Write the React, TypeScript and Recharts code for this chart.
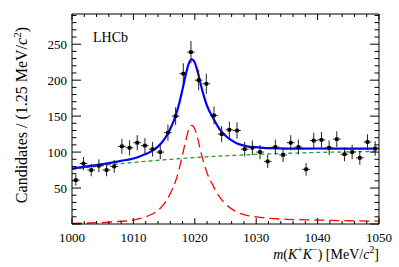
import { ComposedChart, XAxis, YAxis, Line, Scatter, ErrorBar } from "recharts";

const FONT = '"Liberation Serif", "Times New Roman", serif';

// measured bins, 1.25 MeV wide
const binCenters = [
  1000.625, 1001.875, 1003.125, 1004.375, 1005.625, 1006.875, 1008.125, 1009.375,
  1010.625, 1011.875, 1013.125, 1014.375, 1015.625, 1016.875, 1018.125, 1019.375,
  1020.625, 1021.875, 1023.125, 1024.375, 1025.625, 1026.875, 1028.125, 1029.375,
  1030.625, 1031.875, 1033.125, 1034.375, 1035.625, 1036.875, 1038.125, 1039.375,
  1040.625, 1041.875, 1043.125, 1044.375, 1045.625, 1046.875, 1048.125, 1049.375,
];
const candidates = [
  61, 84, 75, 81, 75, 80, 108, 106, 113, 109, 104, 100, 127, 150, 209, 239,
  200, 195, 151, 125, 131, 130, 104, 106, 100, 87, 107, 96, 113, 107, 76, 116,
  117, 106, 118, 97, 100, 92, 114, 105,
];
const candidateErrors = [
  7.8, 9.2, 8.7, 9.0, 8.7, 8.9, 10.4, 10.3, 10.6, 10.4, 10.2, 10.0, 11.3, 12.2, 14.5, 15.5,
  14.1, 14.0, 12.3, 11.2, 11.4, 11.4, 10.2, 10.3, 10.0, 9.3, 10.3, 9.8, 10.6, 10.3, 8.7, 10.8,
  10.8, 10.3, 10.9, 9.8, 10.0, 9.6, 10.7, 10.2,
];
const binHalfWidth = 0.625;

// fit curves
const curveMass = [
  1000, 1003, 1006, 1008, 1010, 1011, 1012, 1013, 1014, 1015, 1016, 1017, 1017.5, 1018,
  1018.5, 1019, 1019.5, 1020, 1020.5, 1021, 1021.5, 1022, 1023, 1024, 1025, 1026, 1027,
  1028, 1029, 1030, 1032, 1035, 1040, 1045, 1050,
];
const signalCurve = [
  1, 1.5, 2.5, 3.8, 5.5, 7.5, 10, 13.5, 19, 28, 42, 63, 78, 96,
  115, 131, 137, 132, 118, 100, 84, 71, 53, 38, 28, 21, 16,
  13, 11, 10, 8, 6.5, 5.5, 4.5, 4,
];
const backgroundCurve = [
  76, 79.2, 82.1, 83.9, 85.6, 86.4, 87.2, 87.9, 88.6, 89.3, 90, 90.6, 90.9, 91.2,
  91.5, 91.8, 92.1, 92.4, 92.7, 92.9, 93.2, 93.4, 93.9, 94.4, 94.8, 95.2, 95.6,
  96, 96.4, 96.8, 97.4, 98.3, 99.5, 100.3, 101,
];
const totalCurve = [
  77, 80.7, 84.6, 87.7, 91.1, 93.9, 97.2, 101.4, 107.6, 117.3, 132, 153.6, 168.9, 187.2,
  206.5, 222.8, 229.1, 224.4, 210.7, 192.9, 177.2, 164.4, 146.9, 132.4, 122.8, 116.2, 111.6,
  109, 107.4, 106.8, 105.4, 104.8, 105, 104.8, 105,
];

const xTicks = Array.from({ length: 26 }, (_, i) => 1000 + i * 2);
const yTicks = Array.from({ length: 30 }, (_, i) => i * 10);

const points = binCenters.map((x, i) => ({
  x,
  y: candidates[i],
  ey: candidateErrors[i],
  ex: binHalfWidth,
}));
const toCurve = (vals: number[]) => curveMass.map((x, i) => ({ x, y: vals[i] }));

const BottomTick = (props: any) => {
  const { x, y, payload } = props;
  const major = payload.value % 10 === 0;
  return (
    <g>
      <line x1={x} x2={x} y1={y} y2={y - (major ? 6 : 3)} stroke="#000" />
      {major && (
        <text x={x} y={y + 18} textAnchor="middle" fontSize={13} fontFamily={FONT} fill="#000">
          {payload.value}
        </text>
      )}
    </g>
  );
};

const TopTick = (props: any) => {
  const { x, y, payload } = props;
  const major = payload.value % 10 === 0;
  return <line x1={x} x2={x} y1={y} y2={y + (major ? 6 : 3)} stroke="#000" />;
};

const LeftTick = (props: any) => {
  const { x, y, payload } = props;
  const major = payload.value % 50 === 0;
  return (
    <g>
      <line x1={x} x2={x + (major ? 9 : 4.5)} y1={y} y2={y} stroke="#000" />
      {major && payload.value > 0 && (
        <text x={x - 5} y={y + 4.5} textAnchor="end" fontSize={13} fontFamily={FONT} fill="#000">
          {payload.value}
        </text>
      )}
    </g>
  );
};

const RightTick = (props: any) => {
  const { x, y, payload } = props;
  const major = payload.value % 50 === 0;
  return <line x1={x} x2={x - (major ? 9 : 4.5)} y1={y} y2={y} stroke="#000" />;
};

const Marker = (props: any) => (
  <rect x={props.cx - 1.8} y={props.cy - 1.8} width={3.6} height={3.6} fill="#000" />
);

export default function App() {
  return (
    <div style={{ position: "absolute", left: 0, top: 0, width: 399, height: 267, background: "#fff" }}>
      <ComposedChart width={399} height={267} margin={{ top: 13, right: 19, bottom: 13, left: 12 }}>
        <XAxis
          dataKey="x"
          type="number"
          domain={[1000, 1050]}
          ticks={xTicks}
          interval={0}
          allowDataOverflow
          height={30}
          tickSize={0}
          tickMargin={0}
          tickLine={false}
          tick={<BottomTick />}
          axisLine={{ stroke: "#000" }}
        />
        <XAxis
          xAxisId="top"
          orientation="top"
          dataKey="x"
          type="number"
          domain={[1000, 1050]}
          ticks={xTicks}
          interval={0}
          allowDataOverflow
          height={1}
          tickSize={0}
          tickMargin={0}
          tickLine={false}
          tick={<TopTick />}
          axisLine={{ stroke: "#000" }}
        />
        <YAxis
          type="number"
          domain={[0, 292]}
          ticks={yTicks}
          interval={0}
          allowDataOverflow
          width={60}
          tickSize={0}
          tickMargin={0}
          tickLine={false}
          tick={<LeftTick />}
          axisLine={{ stroke: "#000" }}
        />
        <YAxis
          yAxisId="right"
          orientation="right"
          type="number"
          domain={[0, 292]}
          ticks={yTicks}
          interval={0}
          allowDataOverflow
          width={1}
          tickSize={0}
          tickMargin={0}
          tickLine={false}
          tick={<RightTick />}
          axisLine={{ stroke: "#000" }}
        />
        {/* invisible series so the mirrored frame axes get drawn */}
        <Line
          xAxisId="top"
          yAxisId="right"
          data={toCurve(backgroundCurve)}
          dataKey="y"
          stroke="none"
          dot={false}
          activeDot={false}
          isAnimationActive={false}
        />
        <Line
          data={toCurve(backgroundCurve)}
          dataKey="y"
          type="monotone"
          stroke="#2ca02c"
          strokeWidth={1.3}
          strokeDasharray="4 3"
          dot={false}
          activeDot={false}
          isAnimationActive={false}
        />
        <Line
          data={toCurve(signalCurve)}
          dataKey="y"
          type="monotone"
          stroke="#ff0000"
          strokeWidth={1.3}
          strokeDasharray="10 5"
          dot={false}
          activeDot={false}
          isAnimationActive={false}
        />
        <Line
          data={toCurve(totalCurve)}
          dataKey="y"
          type="monotone"
          stroke="#0000ff"
          strokeWidth={2.2}
          dot={false}
          activeDot={false}
          isAnimationActive={false}
        />
        <Scatter data={points} dataKey="y" shape={<Marker />} isAnimationActive={false}>
          <ErrorBar dataKey="ey" direction="y" width={0} stroke="#222" strokeWidth={1} />
          <ErrorBar dataKey="ex" direction="x" width={0} stroke="#222" strokeWidth={1} />
        </Scatter>
      </ComposedChart>
      <div
        style={{
          position: "absolute",
          left: 93,
          top: 29,
          fontFamily: FONT,
          fontSize: 14,
          lineHeight: "18px",
          color: "#000",
        }}
      >
        LHCb
      </div>
      <div
        style={{
          position: "absolute",
          left: 22 - 130,
          top: 115 - 10,
          width: 260,
          height: 20,
          lineHeight: "20px",
          textAlign: "center",
          transform: "rotate(-90deg)",
          fontFamily: FONT,
          fontSize: 16,
          color: "#000",
          whiteSpace: "nowrap",
        }}
      >
        Candidates / (1.25 MeV/<i>c</i>
        <sup style={{ fontSize: "0.7em", lineHeight: 0 }}>2</sup>)
      </div>
      <div
        style={{
          position: "absolute",
          right: 20,
          top: 245,
          fontFamily: FONT,
          fontSize: 14,
          lineHeight: "20px",
          color: "#000",
          whiteSpace: "nowrap",
        }}
      >
        <i>m</i>(<i>K</i>
        <sup style={{ fontSize: "0.7em", lineHeight: 0 }}>+</sup>
        <i>K</i>
        <sup style={{ fontSize: "0.7em", lineHeight: 0 }}>−</sup>) [MeV/<i>c</i>
        <sup style={{ fontSize: "0.7em", lineHeight: 0 }}>2</sup>]
      </div>
    </div>
  );
}
